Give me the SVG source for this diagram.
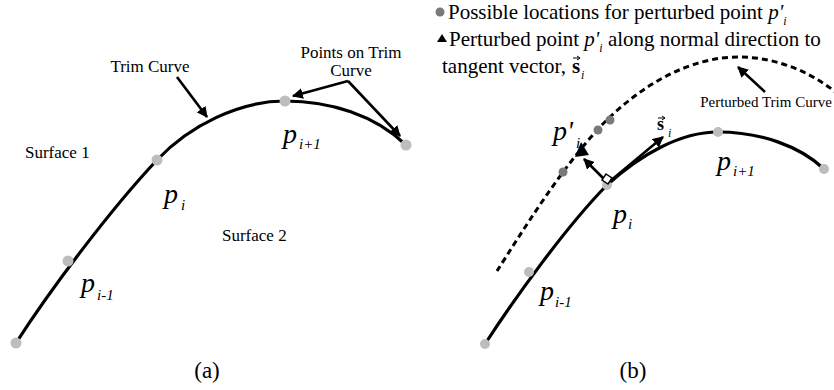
<svg xmlns="http://www.w3.org/2000/svg" width="834" height="390" viewBox="0 0 834 390">
<defs>
<marker id="ah" viewBox="0 0 10 10" refX="9" refY="5" markerWidth="4.2" markerHeight="4.2" markerUnits="strokeWidth" orient="auto">
<path d="M0,0 L10,5 L0,10 Z" fill="#000"/>
</marker>
</defs>
<rect width="834" height="390" fill="#fff"/>
<!-- Panel (a) -->
<g id="curve-a">
<path d="M16,343 C50,290 110,210 157,160 C190,125 240,101 285,101 C330,101 375,115 406,145" fill="none" stroke="#000" stroke-width="3.2"/>
</g>
<g id="points-a" fill="#bdbdbd">
<circle cx="16" cy="343" r="5.5"/>
<circle cx="68" cy="261" r="5.5"/>
<circle cx="157" cy="160" r="5.5"/>
<circle cx="285" cy="101" r="5.5"/>
<circle cx="406" cy="145" r="5.5"/>
</g>
<g id="labels-a">
<text x="25" y="158" font-family="Liberation Serif" font-size="17">Surface 1</text>
<text x="222" y="241" font-family="Liberation Serif" font-size="17">Surface 2</text>
<text x="150" y="72" font-family="Liberation Serif" font-size="17" text-anchor="middle">Trim Curve</text>
<text x="351" y="58" font-family="Liberation Serif" font-size="17" text-anchor="middle">Points on Trim</text>
<text x="351" y="76" font-family="Liberation Serif" font-size="17" text-anchor="middle">Curve</text>
<text x="164" y="203" font-family="Liberation Serif" font-style="italic" font-size="28">p</text><text x="181" y="210" font-family="Liberation Serif" font-style="italic" font-size="15">i</text>
<text x="283" y="143" font-family="Liberation Serif" font-style="italic" font-size="28">p</text><text x="299" y="149" font-family="Liberation Serif" font-style="italic" font-size="15">i+1</text>
<text x="81" y="292" font-family="Liberation Serif" font-style="italic" font-size="28">p</text><text x="97" y="300" font-family="Liberation Serif" font-style="italic" font-size="15">i-1</text>
<text x="207" y="378" font-family="Liberation Serif" font-size="23" text-anchor="middle">(a)</text>
</g>
<g id="connectors-a" stroke="#000" stroke-width="2.6" fill="none" marker-end="url(#ah)">
<line x1="177" y1="77" x2="207" y2="117"/>
<line x1="348" y1="81" x2="293" y2="96"/>
<line x1="348" y1="81" x2="400" y2="136"/>
</g>

<!-- Panel (b) -->
<g id="legend">
<circle cx="440" cy="12" r="4.5" fill="#7a7a7a"/>
<text x="448" y="19" font-family="Liberation Serif" font-size="21">Possible locations for perturbed point <tspan font-style="italic">p'</tspan><tspan font-style="italic" font-size="12" dy="6">i</tspan></text>
<path d="M437,42 L442,34 L447,42 Z" fill="#000"/>
<text x="449" y="46" font-family="Liberation Serif" font-size="21">Perturbed point <tspan font-style="italic">p'</tspan><tspan font-style="italic" font-size="12" dy="6">i</tspan><tspan dy="-6"> along normal direction to</tspan></text>
<text x="442" y="73" font-family="Liberation Serif" font-size="21">tangent vector,</text>
<text x="572" y="73" font-family="Liberation Serif" font-size="21" font-weight="bold">s</text>
<text x="581" y="79" font-family="Liberation Serif" font-size="12" font-style="italic">i</text>
<path d="M573,58 L580,58 M577,56 L580,58 L577,60" stroke="#000" stroke-width="1" fill="none"/>
</g>
<g id="curve-b">
<path d="M485,344 C515,298 565,228 607,185 C640,155 680,132 718,132 C760,132 800,146 824,169" fill="none" stroke="#000" stroke-width="3.2"/>
</g>
<g id="perturbed-curve">
<path d="M497,271 C520,235 560,170 600,127 C640,85 690,57 738,57 C780,57 815,75 838,94" fill="none" stroke="#000" stroke-width="3" stroke-dasharray="6 4"/>
</g>
<g id="points-b">
<g fill="#bdbdbd">
<circle cx="485" cy="344" r="5"/>
<circle cx="529" cy="272" r="5"/>
<circle cx="607" cy="185" r="5"/>
<circle cx="718" cy="132" r="5"/>
<circle cx="824" cy="169" r="5"/>
</g>
<g fill="#7a7a7a">
<circle cx="563" cy="172" r="4.5"/>
<circle cx="598" cy="130" r="4.5"/>
<circle cx="610" cy="120" r="4.5"/>
</g>
</g>
<g id="perturbed-point">
<path d="M575,157 L581,142 L589,155 Z" fill="#000"/>
</g>
<g id="vectors">
<g stroke="#000" stroke-width="2.6" fill="none" marker-end="url(#ah)">
<line x1="606" y1="181" x2="584" y2="159"/>
<line x1="609" y1="182" x2="663" y2="137"/>
</g>
<path d="M606,174 L612,178 L608,184 L602,180 Z" fill="#fff" stroke="#000" stroke-width="1.5"/>
</g>
<g id="labels-b">
<text x="553" y="140" font-family="Liberation Serif" font-size="28" font-style="italic">p'</text><text x="576" y="148" font-family="Liberation Serif" font-size="15" font-style="italic">i</text>
<text x="657" y="130" font-family="Liberation Serif" font-weight="bold" font-size="18">s</text>
<path d="M658,118 L665,118 M662,116 L665,118 L662,120" stroke="#000" stroke-width="1" fill="none"/>
<text x="668" y="137" font-family="Liberation Serif" font-size="12" font-style="italic">i</text>
<text x="613" y="223" font-family="Liberation Serif" font-size="28" font-style="italic">p</text><text x="628" y="229" font-family="Liberation Serif" font-size="15" font-style="italic">i</text>
<text x="717" y="170" font-family="Liberation Serif" font-size="28" font-style="italic">p</text><text x="733" y="176" font-family="Liberation Serif" font-size="15" font-style="italic">i+1</text>
<text x="540" y="300" font-family="Liberation Serif" font-size="28" font-style="italic">p</text><text x="555" y="307" font-family="Liberation Serif" font-size="15" font-style="italic">i-1</text>
<text x="766" y="107" font-family="Liberation Serif" font-size="15" text-anchor="middle">Perturbed Trim Curve</text>
<text x="633" y="378" font-family="Liberation Serif" font-size="23" text-anchor="middle">(b)</text>
</g>
<g id="connectors-b" stroke="#000" stroke-width="2.6" fill="none" marker-end="url(#ah)">
<line x1="765" y1="92" x2="738" y2="67"/>
</g>
</svg>
